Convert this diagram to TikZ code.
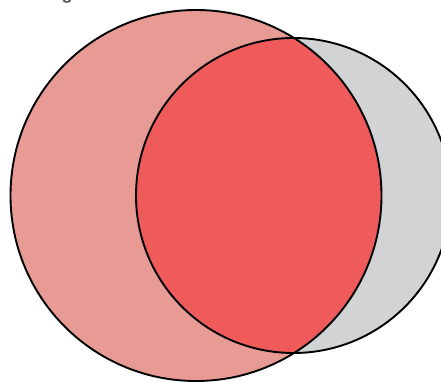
\documentclass[tikz,border=0pt]{standalone}
\usepackage{fontspec}
\setmainfont{Liberation Sans}
\definecolor{pinkc}{HTML}{E89B95}
\definecolor{redc}{HTML}{EF5B5B}
\definecolor{grayc}{HTML}{D1D3D5}
\definecolor{textgray}{HTML}{555555}
\begin{document}
\begin{tikzpicture}[x=1pt,y=1pt,
  outline/.style={draw=black,line width=1.9pt},
  titletext/.style={anchor=base west,inner sep=0pt,text=textgray,font=\bfseries\fontsize{18}{20}\selectfont}]
\useasboundingbox (0,0) rectangle (441,381);
\coordinate (cA) at (196,185.5);
\coordinate (cB) at (293.5,185.5);
\fill[pinkc] (cA) circle (185.5);
\fill[grayc] (cB) circle (157.5);
\begin{scope}
  \clip (cA) circle (185.5);
  \fill[redc] (cB) circle (157.5);
\end{scope}
\draw[outline] (cA) circle (185.5);
\draw[outline] (cB) circle (157.5);
\node[titletext] (title) at (-16.5,381) {According to};
\end{tikzpicture}
\end{document}
